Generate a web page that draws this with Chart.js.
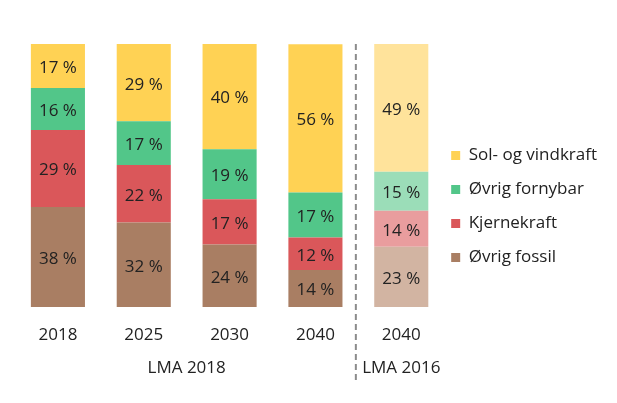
<!DOCTYPE html>
<html lang="no">
<head>
<meta charset="UTF-8">
<title>Kraftmiks LMA 2018 / LMA 2016</title>
<script src="https://cdn.jsdelivr.net/npm/chart.js"></script>
<style>
  html, body { margin: 0; padding: 0; background: #fff; }
  #wrap { width: 617px; height: 403px; }
</style>
</head>
<body>
<div id="wrap"><canvas id="mix"></canvas></div>
<script>
// kategorier og grupper
const years = ['2018', '2025', '2030', '2040', '2040'];
const groupLabels = ['LMA 2018', 'LMA 2016'];
const groupCenters = [1.5, 4];
const dividerAt = 3.5;

// andeler i prosent (lest av figuren)
const ovrigFossil   = [38.0, 32.1, 23.8, 14.1, 22.9];
const kjernekraft   = [29.3, 21.9, 17.2, 12.3, 13.7];
const ovrigFornybar = [16.0, 16.6, 19.0, 17.1, 14.8];
const solVind       = [16.7, 29.4, 40.0, 56.4, 48.6];

const FONT = '"Open Sans", "DejaVu Sans", sans-serif';
const TEXT = '#222';

// siste stolpe (LMA 2016) er blekere
function shades(full, pale) {
    return years.map((_, i) => i === years.length - 1 ? pale : full);
}

// tekst midt i hvert segment
const segmentLabels = {
    id: 'segmentLabels',
    afterDatasetsDraw(chart) {
        const ctx = chart.ctx;
        ctx.save();
        ctx.font = '17px ' + FONT;
        ctx.fillStyle = TEXT;
        ctx.textAlign = 'center';
        ctx.textBaseline = 'middle';
        chart.data.datasets.forEach((ds, i) => {
            chart.getDatasetMeta(i).data.forEach((bar, j) => {
                const p = bar.getProps(['x', 'y', 'base'], true);
                ctx.fillText(Math.round(ds.data[j]) + ' %', p.x, (p.y + p.base) / 2 + 2);
            });
        });
        ctx.restore();
    }
};

// stiplet skillelinje mellom LMA 2018 og LMA 2016
const divider = {
    id: 'divider',
    afterDraw(chart) {
        const ctx = chart.ctx;
        const x = chart.scales.x.getPixelForValue(dividerAt) - 2.5;
        ctx.save();
        ctx.strokeStyle = '#8c8c8c';
        ctx.lineWidth = 2;
        ctx.setLineDash([6, 4]);
        ctx.beginPath();
        ctx.moveTo(x, chart.chartArea.top);
        ctx.lineTo(x, 383);
        ctx.stroke();
        ctx.restore();
    }
};

// flytt legenden litt nærmere stolpene og litt opp
const legendNudge = {
    id: 'legendNudge',
    afterLayout(chart) {
        const lg = chart.legend;
        lg.left -= 10; lg.right -= 10;
        lg.top -= 7; lg.bottom -= 7;
    }
};

new Chart(document.getElementById('mix'), {
    type: 'bar',
    data: {
        labels: years,
        datasets: [
            { label: 'Øvrig fossil', data: ovrigFossil, backgroundColor: shades('#A97E63', '#D2B4A2') },
            { label: 'Kjernekraft', data: kjernekraft, backgroundColor: shades('#DA575A', '#E99D9E') },
            { label: 'Øvrig fornybar', data: ovrigFornybar, backgroundColor: shades('#52C689', '#9BDDB8') },
            { label: 'Sol- og vindkraft', data: solVind, backgroundColor: shades('#FFD254', '#FFE39B') }
        ]
    },
    options: {
        responsive: true,
        maintainAspectRatio: false,
        animation: false,
        layout: { padding: { left: 15, top: 44, right: 0, bottom: 20 } },
        datasets: { bar: { barPercentage: 0.63, categoryPercentage: 1 } },
        plugins: {
            tooltip: { enabled: false },
            legend: {
                position: 'right',
                reverse: true,
                labels: {
                    font: { family: FONT, size: 17 },
                    color: TEXT,
                    boxWidth: 9,
                    boxHeight: 9,
                    padding: 17
                }
            }
        },
        scales: {
            x: {
                stacked: true,
                grid: { display: false, drawTicks: false },
                border: { display: false },
                ticks: { font: { family: FONT, size: 17 }, color: TEXT, padding: 18 },
                afterFit: s => { s.height = 38; }
            },
            x2: {
                type: 'linear',
                position: 'bottom',
                weight: 1,
                offset: false,
                min: -0.5,
                max: 4.5,
                grid: { display: false, drawTicks: false },
                border: { display: false },
                afterBuildTicks: s => { s.ticks = groupCenters.map(v => ({ value: v })); },
                afterFit: s => { s.height = 38; },
                ticks: {
                    font: { family: FONT, size: 17 },
                    color: TEXT,
                    padding: 13,
                    autoSkip: false,
                    maxRotation: 0,
                    callback: (v, i) => groupLabels[i]
                }
            },
            y: {
                stacked: true,
                display: false,
                min: 0,
                max: 100
            }
        }
    },
    plugins: [segmentLabels, divider, legendNudge]
});
</script>
</body>
</html>
